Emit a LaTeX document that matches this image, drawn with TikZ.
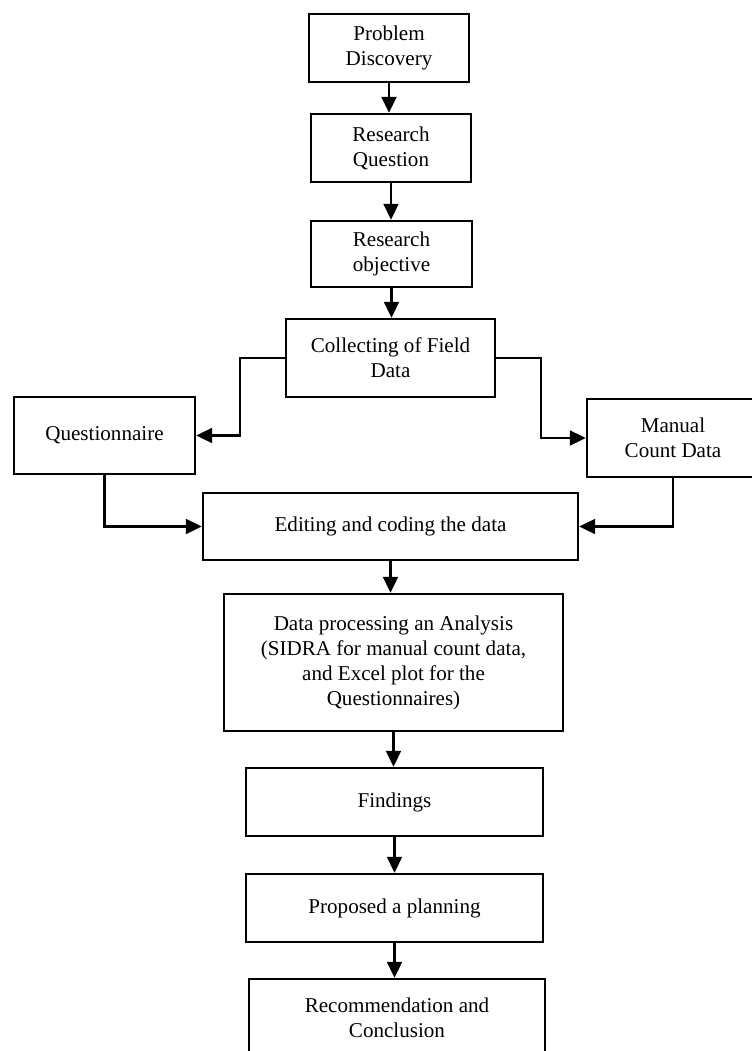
\documentclass[tikz,border=0pt]{standalone}
\usepackage{fontspec}
\setmainfont{Liberation Serif}
\usetikzlibrary{arrows.meta}

\begin{document}
\begin{tikzpicture}[
    x=0.02cm, y=-0.02cm,
    box/.style={rectangle, draw=black, line width=1.4pt, minimum height=1.36cm, align=center, inner sep=2pt, font=\fontsize{12}{14.2}\selectfont},
    arrow/.style={-{Triangle[length=0.32cm, width=0.3cm]}, line width=1.2pt}
]
    \useasboundingbox (0,0) rectangle (751,1051);

    % Top: research steps
    \node[box, minimum width=3.2cm] (disc) at (389,48) {Problem\\Discovery};
    \node[box, minimum width=3.2cm] (ques) at (391,148) {Research\\Question};
    \node[box, minimum width=3.22cm, minimum height=1.32cm] (obj) at (391.5,254) {Research\\objective};

    % Field data and its two sources
    \node[box, minimum width=4.18cm, minimum height=1.56cm] (collect) at (390.5,358) {Collecting of Field\\Data};
    \node[box, minimum width=3.62cm, minimum height=1.54cm] (quest) at (104.5,435.5) {Questionnaire};
    \node[box, minimum width=3.44cm, minimum height=1.56cm] (manual) at (673,438) {Manual\\Count Data};

    % Bottom: processing chain
    \node[box, minimum width=7.5cm, minimum height=1.34cm] (edit) at (390.5,526.5) {Editing and coding the data};
    \node[box, minimum width=6.78cm, minimum height=2.74cm] (process) at (393.5,662.5) {Data processing an Analysis\\(SIDRA for manual count data,\\and Excel plot for the\\Questionnaires)};
    \node[box, minimum width=5.94cm] (find) at (394.5,802) {Findings};
    \node[box, minimum width=5.94cm] (plan) at (394.5,908) {Proposed a planning};
    \node[box, minimum width=5.92cm, minimum height=1.56cm] (concl) at (397,1018) {Recommendation and\\Conclusion};

    % Arrows
    \draw[arrow] (disc.south) -- (disc.south |- ques.north);
    \draw[arrow] (ques.south) -- (ques.south |- obj.north);
    \draw[arrow] (obj.south) -- (obj.south |- collect.north);
    \draw[arrow] (collect.west) -- ++(-45,0) |- (quest.east);
    \draw[arrow] (collect.east) -- ++(45,0) |- (manual.west);
    \draw[arrow] (quest.south) |- (edit.west);
    \draw[arrow] (manual.south) |- (edit.east);
    \draw[arrow] (edit.south) -- (edit.south |- process.north);
    \draw[arrow] (process.south) -- (process.south |- find.north);
    \draw[arrow] (find.south) -- (find.south |- plan.north);
    \draw[arrow] (plan.south) -- (plan.south |- concl.north);
\end{tikzpicture}
\end{document}
